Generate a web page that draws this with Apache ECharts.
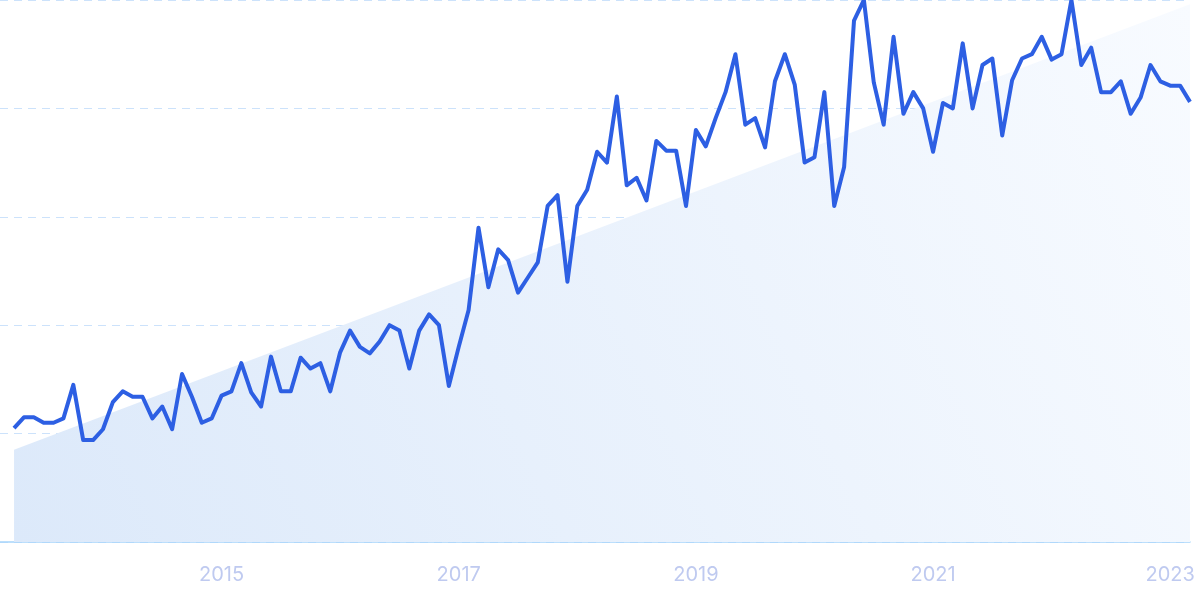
<!DOCTYPE html>
<html>
<head>
<meta charset="utf-8">
<script src="https://cdn.jsdelivr.net/npm/echarts@6/dist/echarts.min.js"></script>
<style>html,body{margin:0;padding:0;background:#fff}#c{width:1200px;height:600px}</style>
</head>
<body>
<div id="c"></div>
<script>
// Monthly series, April 2013 .. March 2023 (120 months)
const startYear = 2013;
const startMonth = 4;
const values = [
  1.05,1.15,1.15,1.10,1.10,1.14,1.45,0.94,0.94,1.04,1.29,1.39,
  1.34,1.34,1.14,1.25,1.04,1.55,1.34,1.10,1.14,1.35,1.39,1.65,
  1.38,1.25,1.71,1.39,1.39,1.70,1.60,1.65,1.39,1.75,1.95,1.80,
  1.74,1.85,2.00,1.95,1.60,1.95,2.10,2.00,1.44,1.80,2.14,2.90,
  2.35,2.70,2.60,2.30,2.44,2.58,3.10,3.20,2.40,3.10,3.25,3.60,
  3.50,4.11,3.29,3.36,3.15,3.70,3.61,3.61,3.10,3.80,3.65,3.91,
  4.15,4.50,3.85,3.91,3.64,4.25,4.50,4.22,3.50,3.55,4.15,3.10,
  3.46,4.81,5.00,4.24,3.85,4.66,3.95,4.15,4.00,3.60,4.05,4.00,
  4.60,4.00,4.40,4.46,3.75,4.26,4.46,4.50,4.66,4.45,4.50,5.00,
  4.40,4.56,4.15,4.15,4.25,3.95,4.10,4.40,4.25,4.21,4.21,4.06
];
const categories = values.map((_, i) => {
  const m = startMonth - 1 + i;
  return (startYear + Math.floor(m / 12)) + '-' + String(m % 12 + 1).padStart(2, '0');
});
// Trend endpoints (first and last month)
const trendStart = 0.85;
const trendEnd = 4.96;
// Tick labels (January of odd years)
const tickLabels = ['2015', '2017', '2019', '2021', '2023'];
const tickIndex = tickLabels.map(y => categories.indexOf(y + '-01'));

const lineData = values.map((v, i) => [i, v]);
const trendData = [[0, trendStart], [values.length - 1, trendEnd]];

const chart = echarts.init(document.getElementById('c'));
chart.setOption({
  animation: false,
  grid: { left: 0, right: 10, top: 0, bottom: 58 },
  xAxis: {
    type: 'value',
    min: -1.42,
    max: values.length - 1,
    axisLine: { show: true, lineStyle: { color: '#a6d5fb', width: 1.5 } },
    axisTick: { show: false },
    splitLine: { show: false },
    axisLabel: {
      customValues: tickIndex,
      formatter: v => tickLabels[tickIndex.indexOf(Math.round(v))] || '',
      color: '#bfcaf0',
      fontSize: 20,
      fontFamily: 'Inter, "Noto Sans", sans-serif',
      margin: 23
    }
  },
  yAxis: {
    type: 'value',
    min: 0,
    max: 5,
    interval: 1,
    axisLine: { show: false },
    axisTick: { show: false },
    axisLabel: { show: false },
    splitLine: { show: true, lineStyle: { color: '#cce2fb', type: [8, 6], width: 1 } }
  },
  series: [
    {
      type: 'line',
      data: trendData,
      symbol: 'none',
      silent: true,
      lineStyle: { width: 0 },
      areaStyle: {
        opacity: 1,
        color: new echarts.graphic.LinearGradient(0, 1, 1, 0, [
          { offset: 0, color: '#dce9fa' },
          { offset: 1, color: '#f8fbff' }
        ])
      },
      z: 1
    },
    {
      type: 'line',
      data: lineData,
      symbol: 'none',
      lineStyle: { color: '#2d5fe3', width: 4, join: 'round' },
      z: 3
    }
  ]
});
</script>
</body>
</html>
